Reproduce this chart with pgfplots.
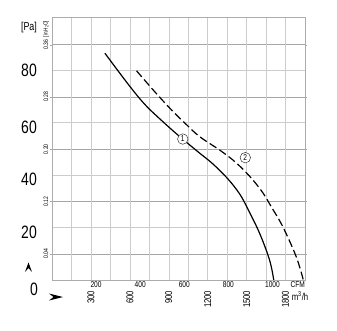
\documentclass[border=0pt]{standalone}
\usepackage{pgfplots}
\pgfplotsset{compat=1.18}
\usepackage{fontspec}
\setmainfont{Liberation Sans}
\newfontfamily\cond[FakeStretch=0.78]{Liberation Sans}
\begin{document}
\begin{tikzpicture}
\useasboundingbox (-52bp,-51bp) rectangle (285bp,280bp);
\pgfplotsset{base/.style={at={(0,0)}, anchor=south west, scale only axis,
  width=253bp, height=262.5bp}}
% darker grid lines (in. H2O)
\begin{axis}[base, xmin=0, xmax=1, ymin=0, ymax=0.40146,
  xtick=\empty, ytick={0.04,0.12,0.20,0.28,0.36},
  yticklabels={0.04,0.12,0.20,0.28,0.36},
  ymajorgrids, major grid style={draw=gray!70, line width=0.5pt},
  axis line style={draw=none}, tick align=outside, major tick length=2bp,
  ytick style={draw=gray!70},
  yticklabel style={rotate=90, anchor=south, inner sep=1.5bp,
    font=\cond\fontsize{6.5}{7}\selectfont}]
\end{axis}
% main axis with grid and curves
\begin{axis}[base, xmin=0, xmax=1950, ymin=0, ymax=100,
  xtick={0,150,...,1950}, ytick={0,20,...,100},
  xticklabel={\relax}, yticklabel={\relax},
  grid=major, major grid style={draw=gray!40, line width=0.5pt},
  major tick length=0pt,
  axis line style={draw=gray!65, line width=0.6pt}]
\addplot[black, line width=1.2pt, smooth, tension=0.6] coordinates {
(407.7,86.4)(586.9,74.6)(715.4,66.9)(843.9,60.8)(959.2,55.7)
(1074.6,50.9)(1138.5,48.3)(1238,44.3)(1354,38.6)(1446,32.8)(1510,27.0)
(1600,17.8)(1676.9,7.6)(1709,0)};
\addplot[black, line width=1.2pt, smooth, tension=0.6, dash pattern=on 8bp off 3.5bp] coordinates {
(651.5,79.7)(792.3,71.7)(920.8,64.8)(1036.2,59.2)(1138.5,54.6)(1292.3,49.5)
(1394.6,45.7)(1471.5,42.2)(1548.5,38.1)(1625.4,33.2)(1690,27.9)(1779,20.3)
(1882,8.9)(1937,0)};
\node[circle, draw=black!80, line width=0.5pt, fill=white, inner sep=0pt,
  minimum size=10.5bp, font=\cond\fontsize{8.5}{9}\selectfont] at (axis cs:1008,53.7) {1};
\node[circle, draw=black!80, line width=0.5pt, fill=white, inner sep=0pt,
  minimum size=10.5bp, font=\cond\fontsize{8.5}{9}\selectfont] at (axis cs:1490,46.6) {2};
\end{axis}
% Pa labels
\begin{axis}[base, xmin=0, xmax=1, ymin=0, ymax=100,
  xtick=\empty, ytick={18.3,38.3,58.3,80}, yticklabels={20,40,60,80},
  extra y ticks={0}, extra y tick labels={0},
  extra y tick style={yticklabel style={yshift=-9bp, xshift=1bp}},
  axis line style={draw=none}, major tick length=0pt,
  yticklabel style={anchor=east, inner sep=0pt, xshift=-15bp,
    font=\cond\fontsize{18}{18}\selectfont}]
\end{axis}
% CFM labels
\begin{axis}[base, xmin=0, xmax=1147.73, ymin=0, ymax=1, ytick=\empty,
  xtick={200,400,600,800,1000,1115}, xticklabels={200,400,600,800,1000,CFM},
  axis line style={draw=none}, major tick length=0pt,
  xticklabel style={anchor=north, inner sep=1bp,
    font=\cond\fontsize{8.5}{9}\selectfont}]
\end{axis}
% m3/h labels
\begin{axis}[base, xmin=0, xmax=1950, ymin=0, ymax=1, ytick=\empty,
  xtick={300,600,900,1200,1500,1800}, xticklabels={300,600,900,1200,1500,1800},
  axis line style={draw=none}, major tick length=0pt,
  xticklabel style={yshift=-10.5bp, rotate=90, anchor=east, inner sep=0pt,
    font=\cond\fontsize{10}{10}\selectfont}]
\end{axis}
\node[font=\cond\fontsize{10}{10}\selectfont] at (248bp,-16bp) {m\textsuperscript{3}/h};
\node[font=\cond\fontsize{11.5}{12}\selectfont] at (-23bp,252bp) {[Pa]};
\node[rotate=90, font=\cond\fontsize{6}{6}\selectfont] at (-6bp,251bp) {[in.H\raisebox{-0.3ex}{\fontsize{4.5}{5}\selectfont 2}O]};
\fill[black] (-27bp,8bp) -- (-23.5bp,17.5bp) -- (-20bp,8bp) -- (-23.5bp,12bp) -- cycle;
\fill[black] (-3bp,-13.5bp) -- (11bp,-17bp) -- (-3bp,-20.5bp) -- (1.5bp,-17bp) -- cycle;
\end{tikzpicture}
\end{document}
